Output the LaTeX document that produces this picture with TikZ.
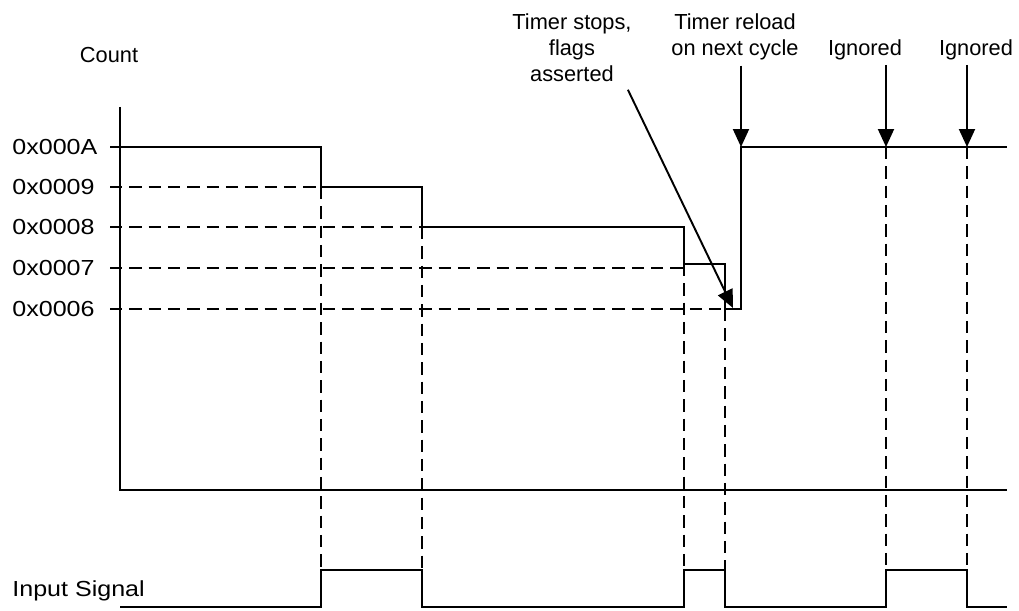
\documentclass[tikz,border=0pt]{standalone}
\usepackage{fontspec}
\setmainfont{Liberation Sans}
\usetikzlibrary{arrows.meta}

\begin{document}
\begin{tikzpicture}[x=0.02cm,y=-0.02cm,
  wave/.style={line width=1.1pt},
  guide/.style={line width=1pt,dash pattern=on 7pt off 4pt},
  pointer/.style={line width=1.1pt,-{Triangle[length=0.36cm,width=0.32cm]}},
  lbl/.style={inner sep=0pt,font=\fontsize{12.4pt}{14.8pt}\selectfont,align=center},
  axlbl/.style={inner sep=0pt,font=\fontsize{12.4pt}{14.8pt}\selectfont,xscale=1.15}]
\useasboundingbox (0,0) rectangle (1019,611);
\draw[wave] (120,107) -- (120,490) -- (1007,490);
\draw[wave] (110,147) -- (120,147);
\node[lbl,anchor=base] (count) at (109,63) {Count};
\node[axlbl,anchor=west] (lvA) at (12,147) {0x000A};
\node[axlbl,anchor=west] (lv9) at (12,187) {0x0009};
\node[axlbl,anchor=west] (lv8) at (12,227) {0x0008};
\node[axlbl,anchor=west] (lv7) at (12,268) {0x0007};
\node[axlbl,anchor=west] (lv6) at (12,309) {0x0006};
\node[axlbl,anchor=base west] (input) at (12,597) {Input Signal};
\node[lbl,anchor=north] (stops) at (572,13) {Timer stops,\\flags\\asserted};
\node[lbl,anchor=north] (reload) at (735,13.5) {Timer reload\\on next cycle};
\node[lbl,anchor=base] (ign1) at (865,56) {Ignored};
\node[lbl,anchor=base] (ign2) at (976,56) {Ignored};
\coordinate (tipR) at (741,147);
\coordinate (tipI) at (886,147);
\coordinate (tipJ) at (967,147);
\coordinate (tipF) at (733,308);
\draw[guide] (110,187) -- (321,187);
\draw[guide] (110,227) -- (422,227);
\draw[guide] (110,268) -- (684,268);
\draw[guide] (110,309) -- (725,309);
\foreach \x/\y in {321/187,422/227,684/264,725/309,886/147,967/147}
  \draw[guide] (\x,\y) -- (\x,570);
\draw[wave] (120,147) -- (321,147) -- (321,187) -- (422,187) -- (422,227) -- (684,227) -- (684,264)
  -- (725,264) -- (725,309) -- (741,309) -- (741,147) -- (1007,147);
\draw[wave] (120,607) -- (321,607) -- (321,570) -- (422,570) -- (422,607) -- (684,607) -- (684,570)
  -- (725,570) -- (725,607) -- (886,607) -- (886,570) -- (967,570) -- (967,607) -- (1007,607);
\draw[pointer] (reload.south -| tipR) ++(0,5) -- (tipR);
\draw[pointer] (ign1.south -| tipI) ++(0,4) -- (tipI);
\draw[pointer] (ign2.south -| tipJ) ++(0,4) -- (tipJ);
\draw[pointer] (stops.south east) ++(-4,8) -- (tipF);
\end{tikzpicture}
\end{document}
